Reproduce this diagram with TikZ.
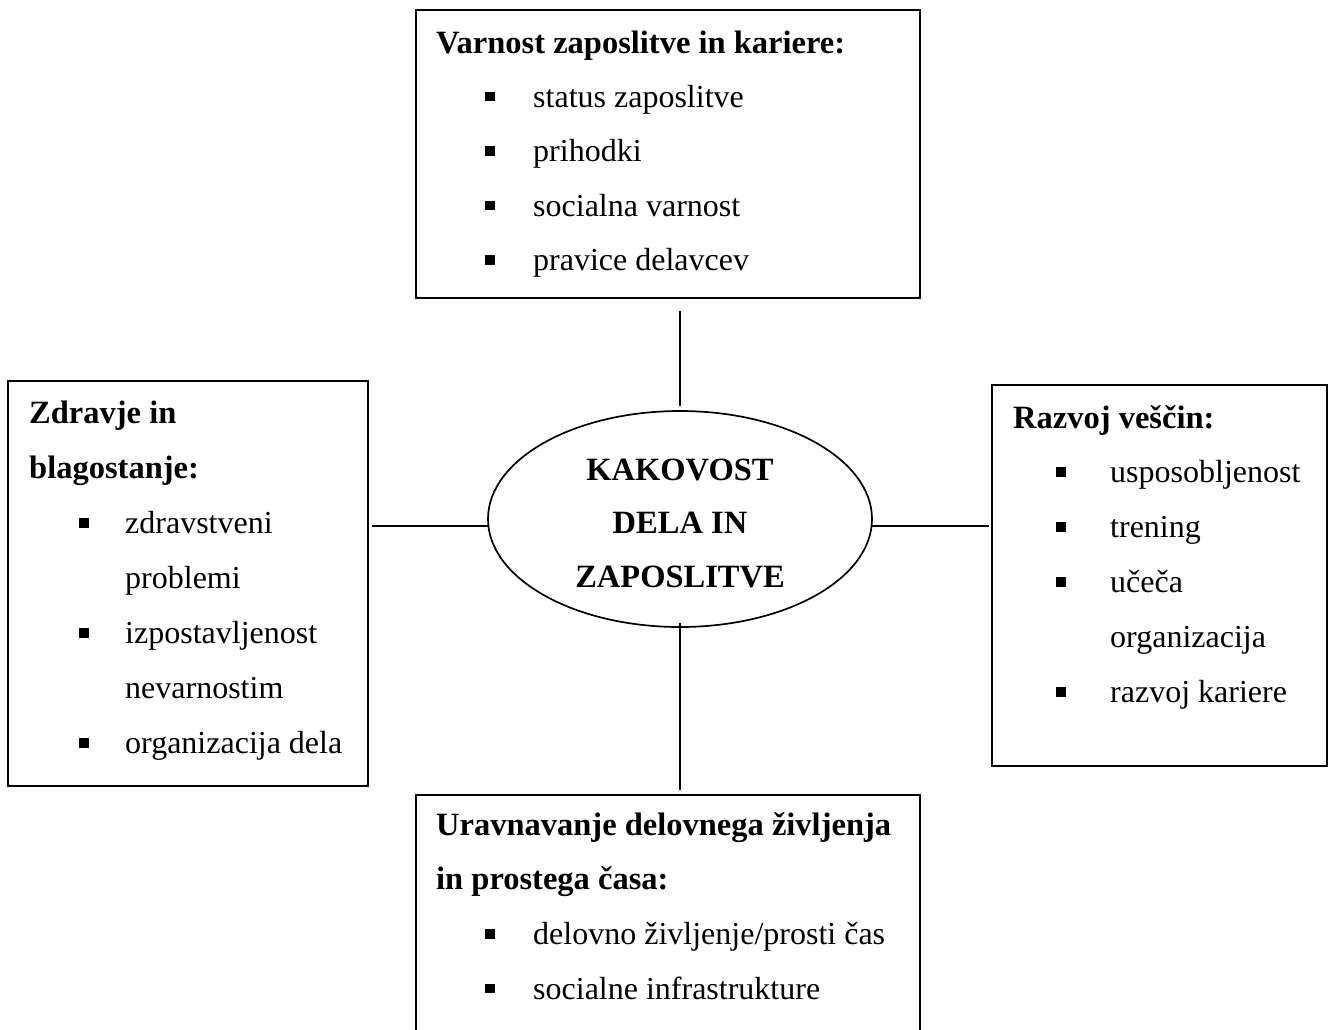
\documentclass[tikz,border=0pt]{standalone}
\usepackage{fontspec}
\setmainfont{Liberation Serif}
\usetikzlibrary{shapes.geometric}
\begin{document}
\begin{tikzpicture}[x=1pt,y=-1pt,
  box/.style={draw, line width=1.8pt, rectangle, inner sep=0},
  conn/.style={line width=1.8pt},
  hd/.style={anchor=base west, inner sep=0, font=\fontsize{32.5}{40}\selectfont\bfseries},
  ctr/.style={anchor=base, inner sep=0, font=\fontsize{32.5}{40}\selectfont\bfseries},
  itm/.style={anchor=base west, inner sep=0, font=\fontsize{32}{40}\selectfont},
  bul/.style={fill=black, rectangle, minimum size=9.5pt, inner sep=0},
  ]
\clip (0,0) rectangle (1329,1029);
\fill[white] (0,0) rectangle (1329,1029);

% boxes
\node[box, minimum width=504pt, minimum height=288pt] (top) at (668,154) {};
\node[box, minimum width=360pt, minimum height=405pt] (left) at (188,583.5) {};
\node[box, minimum width=335pt, minimum height=381pt] (right) at (1159.5,575.5) {};
\node[box, minimum width=504pt, minimum height=320pt] (bot) at (668,955) {};
\node[draw, ellipse, line width=1.7pt, minimum width=384pt, minimum height=216pt, inner sep=0] (ell) at (680,519) {};

% centre text
\node[ctr] (c1) at (680,480) {KAKOVOST};
\node[ctr] (c2) at (680,533) {DELA IN};
\node[ctr] (c3) at (680,587) {ZAPOSLITVE};

% top box
\node[hd] (topH) at (436,53) {Varnost zaposlitve in kariere:};
\foreach \t/\yy [count=\i] in {status zaposlitve/107, prihodki/161.5, socialna varnost/216, pravice delavcev/270.5} {
  \node[bul] (topB\i) at (490,\yy-10.5) {};
  \node[itm] (topI\i) at (533,\yy) {\t};
}

% left box
\node[hd] (leftH1) at (29,423.5) {Zdravje in};
\node[hd] (leftH2) at (29,478.5) {blagostanje:};
\node[bul] (leftB1) at (84,533.5-10.5) {};
\node[itm] (leftI1) at (125,533.5) {zdravstveni};
\node[itm] (leftI2) at (125,588.5) {problemi};
\node[bul] (leftB2) at (84,643.5-10.5) {};
\node[itm] (leftI3) at (125,643.5) {izpostavljenost};
\node[itm] (leftI4) at (125,698.5) {nevarnostim};
\node[bul] (leftB3) at (84,753.5-10.5) {};
\node[itm] (leftI5) at (125,753.5) {organizacija dela};

% right box
\node[hd] (rightH) at (1013,428) {Razvoj veščin:};
\node[bul] (rightB1) at (1061,482.5-10.5) {};
\node[itm] (rightI1) at (1110,482.5) {usposobljenost};
\node[bul] (rightB2) at (1061,537.5-10.5) {};
\node[itm] (rightI2) at (1110,537.5) {trening};
\node[bul] (rightB3) at (1061,592.5-10.5) {};
\node[itm] (rightI3) at (1110,592.5) {učeča};
\node[itm] (rightI4) at (1110,647.5) {organizacija};
\node[bul] (rightB4) at (1061,702.5-10.5) {};
\node[itm] (rightI5) at (1110,702.5) {razvoj kariere};

% bottom box
\node[hd] (botH1) at (436,835) {Uravnavanje delovnega življenja};
\node[hd] (botH2) at (436,889.5) {in prostega časa:};
\node[bul] (botB1) at (490,944.5-10.5) {};
\node[itm] (botI1) at (533,944.5) {delovno življenje/prosti čas};
\node[bul] (botB2) at (490,999-10.5) {};
\node[itm] (botI2) at (533,999) {socialne infrastrukture};

% connectors
\draw[conn, shorten <=12pt, shorten >=4pt] (ell.north |- top.south) -- (ell.north);
\draw[conn, shorten <=-5pt, shorten >=4pt] (ell.south) -- (ell.south |- bot.north);
\draw[conn, shorten >=2pt] (ell.-2) -- (ell.-2 -| right.west);
\draw[conn, shorten >=3pt] (ell.182) -- (ell.182 -| left.east);
\end{tikzpicture}
\end{document}
